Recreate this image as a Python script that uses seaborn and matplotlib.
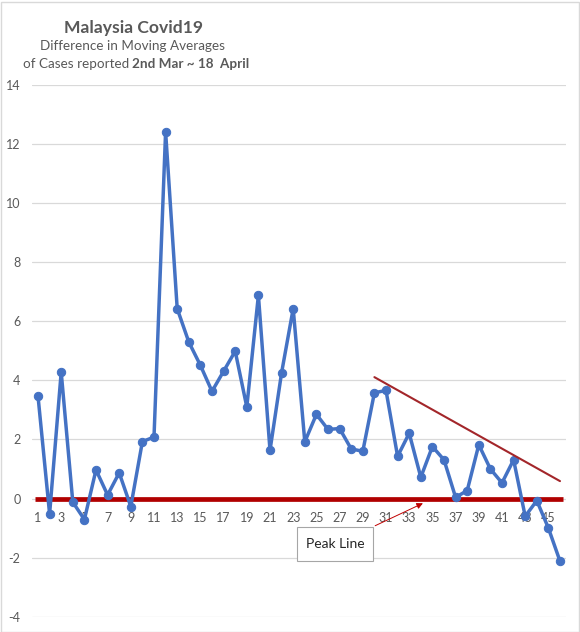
import matplotlib
matplotlib.use('Agg')
import matplotlib.pyplot as plt
import seaborn as sns
import pandas as pd
from matplotlib.patches import Rectangle

# ---- data ----
days = list(range(1, 47))
diff = [3.47, -0.52, 4.28, -0.12, -0.71, 0.97, 0.12, 0.87, -0.27, 1.93,
        2.08, 12.42, 6.43, 5.30, 4.51, 3.63, 4.31, 4.99, 3.10, 6.88,
        1.63, 4.26, 6.43, 1.92, 2.85, 2.34, 2.37, 1.68, 1.60, 3.58,
        3.66, 1.43, 2.21, 0.72, 1.76, 1.31, 0.04, 0.27, 1.82, 1.00,
        0.53, 1.31, -0.60, -0.07, -1.00, -2.12]
trend_x = [30, 46]
trend_y = [4.11, 0.59]
peak_level = 0
x_tick_labels = [str(d) for d in range(1, 47, 2)]
y_ticks = [-4, -2, 0, 2, 4, 6, 8, 10, 12, 14]

df = pd.DataFrame({'day': days, 'diff': diff})

sns.set_theme(style='white')
plt.rcParams['font.family'] = ['Lato', 'DejaVu Sans']

W, H = 580, 632
fig = plt.figure(figsize=(W / 100, H / 100), dpi=100)
# plot area in pixels: left 32.2, right 565.8, top 85 (14), bottom 616.7 (-4)
ax = fig.add_axes([32.2 / W, 1 - 616.7 / H, (565.8 - 32.2) / W, (616.7 - 85) / H])
ax.set_axisbelow(True)

grey = '#595959'
blue = '#4472C4'

ax.set_xlim(0.5, 46.5)
ax.set_ylim(-4, 14)
ax.set_yticks(y_ticks)
ax.set_yticklabels([str(t) for t in y_ticks])
ax.set_xticks(list(range(1, 47, 2)))
ax.set_xticklabels(x_tick_labels)
ax.grid(axis='y', color='#D9D9D9', linewidth=0.9)
ax.grid(axis='x', visible=False)
for s in ax.spines.values():
    s.set_visible(False)
ax.spines['bottom'].set_position(('data', 0))
ax.tick_params(axis='x', length=0, pad=9.5, labelsize=9, labelcolor=grey)
ax.tick_params(axis='y', length=0, pad=8.5, labelsize=9, labelcolor=grey)

# peak line
ax.plot([0.75, 46.3], [peak_level, peak_level], color='#B00000', lw=3.4,
        solid_capstyle='butt', zorder=2)

# main series
sns.lineplot(data=df, x='day', y='diff', ax=ax, color=blue, lw=2.5,
             marker='o', markersize=6, markeredgecolor=blue,
             markerfacecolor=blue, zorder=3)
ax.set_xlabel('')
ax.set_ylabel('')

# trend line
ax.plot(trend_x, trend_y, color='#A3262A', lw=1.5, zorder=4)

# annotation box + arrow
ax.add_patch(Rectangle((23.33, -2.10), 6.55, 1.12, facecolor='white',
                       edgecolor='#A6A6A6', lw=0.8, zorder=5))
ax.text(26.6, -1.54, 'Peak Line', ha='center', va='center', fontsize=10,
        color='#262626', zorder=6)
ax.annotate('', xy=(34.4, -0.12), xytext=(29.85, -0.96),
            arrowprops=dict(arrowstyle='-|>', color='#C00000', lw=0.7,
                            mutation_scale=9), zorder=5)

# titles
fig.text(133.5 / W, 1 - 28 / H, 'Malaysia Covid19', ha='center', va='center',
         fontsize=12.6, fontweight='bold', color=grey)
fig.text(133 / W, 1 - 46 / H, 'Difference in Moving Averages', ha='center',
         va='center', fontsize=9.7, color=grey)
fig.text(129.5 / W, 1 - 64 / H, 'of Cases reported', ha='right', va='center',
         fontsize=9.7, color=grey)
fig.text(132 / W, 1 - 64 / H, '2nd Mar ~ 18  April', ha='left', va='center',
         fontsize=9.7, fontweight='bold', color=grey)

# chart border
fig.patches.append(Rectangle((0.5 / W, 0.5 / H), (W - 2) / W, (H - 2) / H,
                             transform=fig.transFigure, fill=False,
                             edgecolor='#D9D9D9', lw=1.0))

fig.savefig('out.png', dpi=100)
